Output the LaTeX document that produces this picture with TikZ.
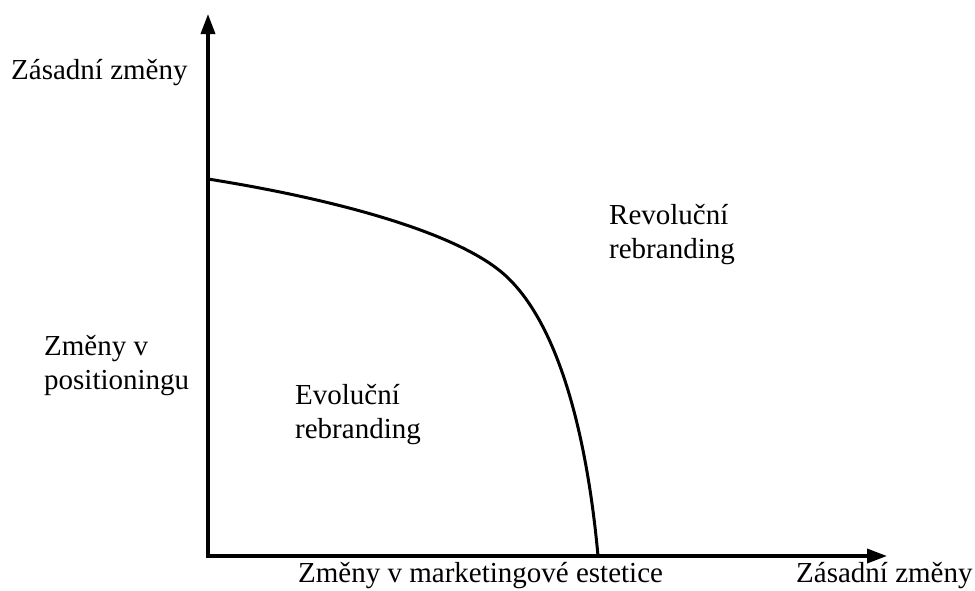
\documentclass[tikz,border=0pt]{standalone}
\usepackage{fontspec}
\setmainfont{Liberation Serif}
\usepackage{tikz}
\usetikzlibrary{arrows.meta,positioning}

\begin{document}
\begin{tikzpicture}[x=1pt, y=-1pt,
  popis/.style={anchor=base west, inner sep=0pt, align=left,
                font=\fontsize{29}{34}\selectfont},
  osa/.style={line width=3.5pt, -{Triangle[length=20pt, width=14pt]}},
  krivka/.style={line width=3pt, line join=round}
]
\useasboundingbox (0,0) rectangle (975,590);

\coordinate (O) at (208,556);
\coordinate (yosa) at (208,14);
\coordinate (xosa) at (887,556);
\coordinate (zac) at (208,179);
\coordinate (ohyb) at (507,277);
\coordinate (kon) at (598,556);

\draw[osa] ([yshift=-1.75pt]O) -- (yosa);
\draw[osa] ([xshift=-1.75pt]O) -- (xosa);

\draw[krivka] (zac) .. controls (340,200) and (462,234) .. (ohyb)
  .. controls (562,329) and (588,446) .. (kon);

\node[popis] (yhore) at (11,79) {Zásadní změny};
\node[popis] (ystred) at (44,389) {Změny v\\positioningu};
\node[popis] (evol) at (295,438) {Evoluční\\rebranding};
\node[popis] (revol) at (609,258) {Revoluční\\rebranding};
\node[popis] (xstred) at (298,582) {Změny v marketingové estetice};
\node[popis] (xvpravo) at (796,582) {Zásadní změny};
\end{tikzpicture}
\end{document}
